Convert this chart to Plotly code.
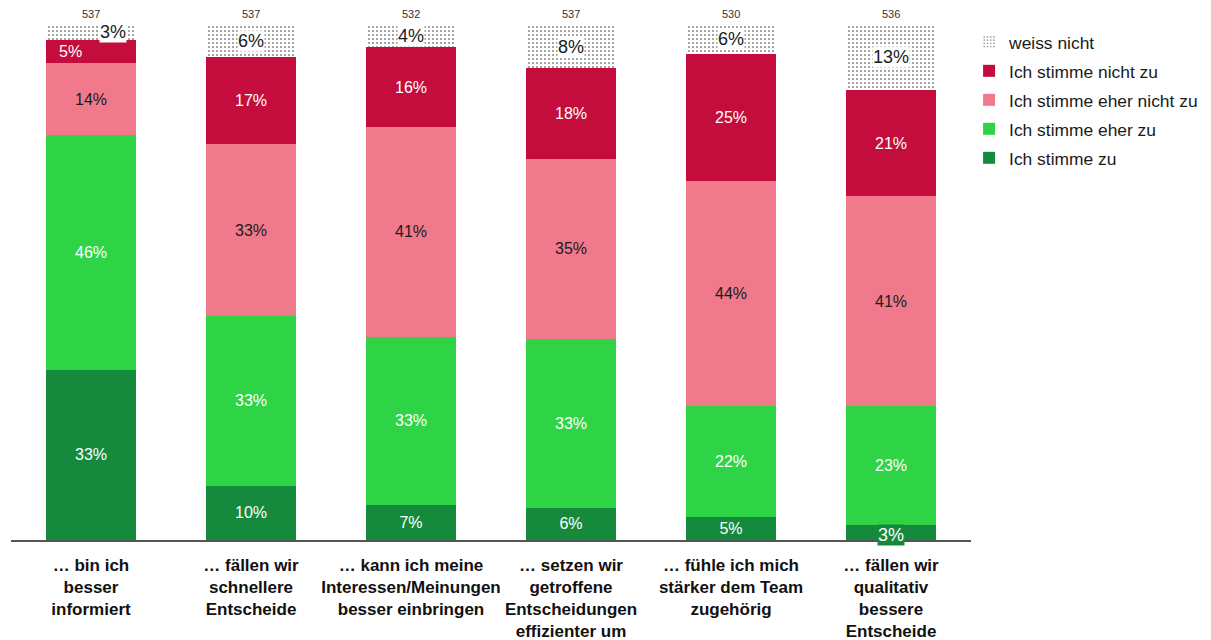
import plotly.graph_objects as go

# -- DATA --
categories = [
    "… bin ich<br>besser<br>informiert",
    "… fällen wir<br>schnellere<br>Entscheide",
    "… kann ich meine<br>Interessen/Meinungen<br>besser einbringen",
    "… setzen wir<br>getroffene<br>Entscheidungen<br>effizienter um",
    "… fühle ich mich<br>stärker dem Team<br>zugehörig",
    "… fällen wir<br>qualitativ<br>bessere<br>Entscheide",
]
n_counts = [537, 537, 532, 537, 530, 536]

# shares in % (bar heights)
stimme_zu = [33.1, 10.5, 6.8, 6.3, 4.4, 2.9]
eher_zu = [45.5, 33.0, 32.7, 32.8, 21.6, 23.1]
eher_nicht_zu = [14.0, 33.3, 40.7, 34.9, 43.7, 40.7]
nicht_zu = [4.5, 17.0, 15.5, 17.6, 24.7, 20.7]
weiss_nicht = [2.9, 6.2, 4.3, 8.4, 5.6, 12.6]

# printed labels (rounded)
lbl_stimme_zu = [33, 10, 7, 6, 5, 3]
lbl_eher_zu = [46, 33, 33, 33, 22, 23]
lbl_eher_nicht_zu = [14, 33, 41, 35, 44, 41]
lbl_nicht_zu = [5, 17, 16, 18, 25, 21]
lbl_weiss_nicht = [3, 6, 4, 8, 6, 13]

# -- STYLE --
FONT = "Arial, Liberation Sans, sans-serif"
C_ZU = "#168A3C"
C_EHER_ZU = "#2ED446"
C_EHER_NICHT = "#F07A8C"
C_NICHT = "#C40D3C"

# page body has an 8px margin -> shift everything back
PLOT_TOP = 17
PLOT_H = 515

x = list(range(len(categories)))

fig = go.Figure()

series = [
    ("Ich stimme zu", stimme_zu, lbl_stimme_zu, C_ZU, "white", "legend5"),
    ("Ich stimme eher zu", eher_zu, lbl_eher_zu, C_EHER_ZU, "white", "legend4"),
    ("Ich stimme eher nicht zu", eher_nicht_zu, lbl_eher_nicht_zu, C_EHER_NICHT, "#1a1a1a", "legend3"),
    ("Ich stimme nicht zu", nicht_zu, lbl_nicht_zu, C_NICHT, "white", "legend2"),
]

for name, vals, lbls, color, tcol, leg in series:
    txt = [f"{v}%" for v in lbls]
    # these two are placed by hand below
    if name == "Ich stimme zu":
        txt[5] = ""
    if name == "Ich stimme nicht zu":
        txt[0] = ""
    fig.add_trace(go.Bar(
        x=x, y=vals, name=name, legend=leg,
        marker=dict(color=color, line=dict(width=0)),
        text=txt, textposition="inside", insidetextanchor="middle",
        textfont=dict(family=FONT, size=16, color=tcol),
        hoverinfo="skip",
    ))

fig.add_trace(go.Bar(
    x=x, y=weiss_nicht, name="weiss nicht", legend="legend",
    marker=dict(color="white", line=dict(width=0),
                pattern=dict(shape=".", fgcolor="#111111", bgcolor="white",
                             size=4, solidity=0.2)),
    hoverinfo="skip",
))

totals = [a + b + c + d + e for a, b, c, d, e in
          zip(stimme_zu, eher_zu, eher_nicht_zu, nicht_zu, weiss_nicht)]

for i in x:
    fig.add_annotation(x=i, y=totals[i], text=str(n_counts[i]), showarrow=False,
                       yanchor="bottom", yshift=3,
                       font=dict(family=FONT, size=11, color="#333333"))
    y_mid = totals[i] - weiss_nicht[i] / 2
    fig.add_annotation(x=i, y=y_mid, text=f"{lbl_weiss_nicht[i]}%", showarrow=False,
                       xshift=22 if i == 0 else 0,
                       bgcolor="white", borderpad=0,
                       font=dict(family=FONT, size=18, color="#1a1a1a"))

# first bar "5%" sits left of centre
fig.add_annotation(x=0, y=stimme_zu[0] + eher_zu[0] + eher_nicht_zu[0] + nicht_zu[0] / 2,
                   text=f"{lbl_nicht_zu[0]}%", showarrow=False, xshift=-21,
                   font=dict(family=FONT, size=16, color="white"))
# small green "3%" label on the last bar
fig.add_annotation(x=5, y=stimme_zu[5] / 2, text=f"{lbl_stimme_zu[5]}%", showarrow=False,
                   yshift=-2, bgcolor=C_ZU, borderpad=0,
                   font=dict(family=FONT, size=18, color="white"))

leg_centres = [34, 63, 92, 121, 150]  # pixel centres of legend rows
leg_keys = ["legend", "legend2", "legend3", "legend4", "legend5"]
leg_layout = {}
for key, yc in zip(leg_keys, leg_centres):
    leg_layout[key] = dict(
        x=0.998, xanchor="left",
        y=1 - (yc - PLOT_TOP) / PLOT_H, yanchor="middle",
        font=dict(family=FONT, size=17.4, color="#1a1a1a"),
        bgcolor="rgba(0,0,0,0)", borderwidth=0,
    )

fig.update_layout(
    barmode="stack",
    bargap=0.44,
    width=1211, height=640,
    plot_bgcolor="white", paper_bgcolor="white",
    margin=dict(l=3, r=248, t=PLOT_TOP, b=640 - PLOT_TOP - PLOT_H),
    font=dict(family=FONT, color="#1a1a1a"),
    uniformtext=dict(minsize=16, mode="show"),
    showlegend=True,
    **leg_layout,
)

fig.update_xaxes(
    tickmode="array", tickvals=x,
    ticktext=["<br>".join(f"<b>{p}</b>" for p in c.split("<br>")) for c in categories],
    tickfont=dict(family=FONT, size=17, color="#111111"),
    ticklabelstandoff=9,
    showline=True, linecolor="#555555", linewidth=1.5,
    showgrid=False, ticks="", range=[-0.5, 5.5],
)
fig.update_yaxes(visible=False, range=[0, 100])

fig.write_html("out.html")
